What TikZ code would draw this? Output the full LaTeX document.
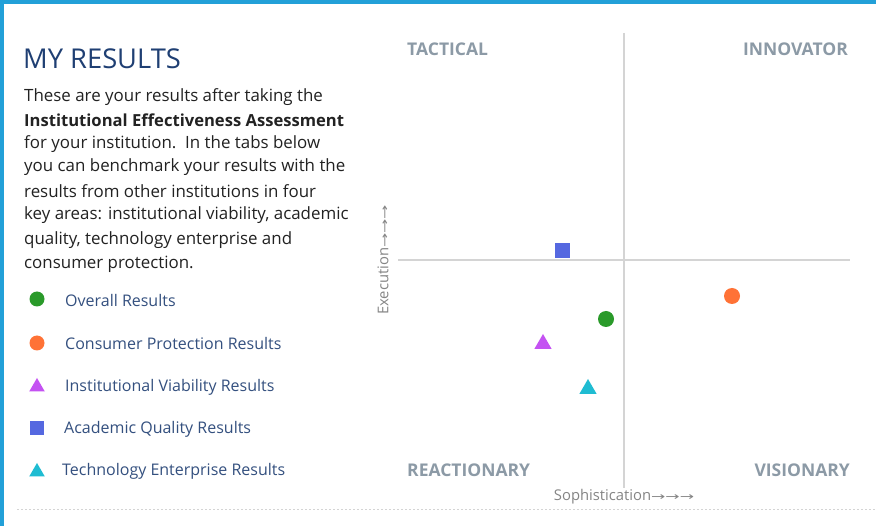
\documentclass[tikz,border=0pt]{standalone}
\usepackage{fontspec}
\usepackage{graphicx}
\usetikzlibrary{shapes.geometric}
\setmainfont{Open Sans}
\newfontfamily\symf{DejaVu Sans}
\definecolor{frameblue}{HTML}{22A0D8}
\definecolor{titlecol}{HTML}{1F3F73}
\definecolor{bodycol}{HTML}{222222}
\definecolor{legcol}{HTML}{34507F}
\definecolor{gridcol}{HTML}{D4D4D4}
\definecolor{quadcol}{HTML}{8C9AA6}
\definecolor{axiscol}{HTML}{858585}
\definecolor{cgreen}{HTML}{2A9A2A}
\definecolor{corange}{HTML}{FF7236}
\definecolor{cpurple}{HTML}{C452F2}
\definecolor{cblue}{HTML}{5568E0}
\definecolor{ccyan}{HTML}{1FBCD2}
\newcommand{\longarr}{{\symf\fontsize{11}{12}\selectfont\scalebox{1.55}[1]{→}}}
\tikzset{
  bodytxt/.style={anchor=west,inner sep=0pt,text=bodycol,font=\fontsize{16.9}{19}\selectfont},
  boldtxt/.style={anchor=west,inner sep=0pt,text=bodycol,font=\fontsize{16.6}{19}\selectfont\bfseries},
  legtxt/.style={anchor=west,inner sep=0pt,text=legcol,font=\fontsize{16}{19}\selectfont},
  quadtxt/.style={inner sep=0pt,text=quadcol,font=\fontsize{17.5}{20}\selectfont\bfseries},
  axistxt/.style={inner sep=0pt,text=axiscol,font=\fontsize{14.8}{17}\selectfont},
  gridline/.style={draw=gridcol,line width=2pt},
  dotmark/.style={circle,inner sep=0pt,minimum size=15pt},
  sqmark/.style={rectangle,inner sep=0pt,minimum size=14pt},
  trimark/.style={regular polygon,regular polygon sides=3,inner sep=0pt,minimum size=18pt},
}
\begin{document}
\begin{tikzpicture}[x=1pt,y=-1pt]
\useasboundingbox (0,0) rectangle (876,526);
\fill[white] (0,0) rectangle (876,526);
% frame
\fill[frameblue] (0,0) rectangle (876,4);
\fill[frameblue] (0,0) rectangle (4,526);
% bottom dotted rule
\draw[gridcol,line width=0.8pt,dash pattern=on 2pt off 2pt] (17,509) -- (876,509);
% title and body
\node[anchor=west,inner sep=0pt,text=titlecol,font=\fontsize{27.3}{30}\selectfont] (title) at (23,59) {MY RESULTS};
\node[bodytxt] (t1) at (24,97) {These are your results after taking the};
\node[boldtxt] (t2) at (24,120) {Institutional Effectiveness Assessment};
\node[bodytxt] (t3) at (24,144) {for your institution.\ \ In the tabs below};
\node[bodytxt] (t4) at (24,167) {you can benchmark your results with the};
\node[bodytxt] (t5) at (24,191) {results from other institutions in four};
\node[bodytxt] (t6) at (24,215) {key areas: institutional viability, academic};
\node[bodytxt] (t7) at (24,240) {quality, technology enterprise and};
\node[bodytxt] (t8) at (24,264) {consumer protection.};
% legend
\node[dotmark,fill=cgreen] (l1m) at (37,299) {};
\node[dotmark,fill=corange] (l2m) at (37,343) {};
\node[trimark,fill=cpurple] (l3m) at (37,387) {};
\node[sqmark,fill=cblue] (l4m) at (37,428) {};
\node[trimark,fill=ccyan] (l5m) at (37,472) {};
\node[legtxt] (l1) at (65,301) {Overall Results};
\node[legtxt] (l2) at (65,344) {Consumer Protection Results};
\node[legtxt] (l3) at (65,387) {Institutional Viability Results};
\node[legtxt] (l4) at (64,429) {Academic Quality Results};
\node[legtxt] (l5) at (62,471) {Technology Enterprise Results};
% chart grid
\coordinate (vtop) at (624,33);
\coordinate (vbot) at (624,488);
\coordinate (hl) at (398,260);
\coordinate (hr) at (850,260);
\draw[gridline] (vtop) -- (vbot);
\draw[gridline] (hl) -- (hr);
% quadrant labels
\node[quadtxt,anchor=west] (q1) at (407,49) {TACTICAL};
\node[quadtxt,anchor=east] (q2) at (848,49) {INNOVATOR};
\node[quadtxt,anchor=west] (q3) at (407,470) {REACTIONARY};
\node[quadtxt,anchor=east] (q4) at (850,470) {VISIONARY};
% axis titles
\node[axistxt,rotate=90,anchor=west] (ax1) at (383,315) {Execution\longarr\longarr\longarr};
\node[axistxt] (ax2) at (624,497) {Sophistication\longarr\longarr\longarr};
% data points
\node[sqmark,fill=cblue,minimum size=15pt] (pblue) at (562,251) {};
\node[dotmark,fill=corange,minimum size=16pt] (porange) at (732,296) {};
\node[dotmark,fill=cgreen,minimum size=16pt] (pgreen) at (606,319) {};
\node[trimark,fill=cpurple,minimum size=20pt] (ppurple) at (543,344) {};
\node[trimark,fill=ccyan,minimum size=20pt] (pcyan) at (588,389) {};
\end{tikzpicture}
\end{document}
